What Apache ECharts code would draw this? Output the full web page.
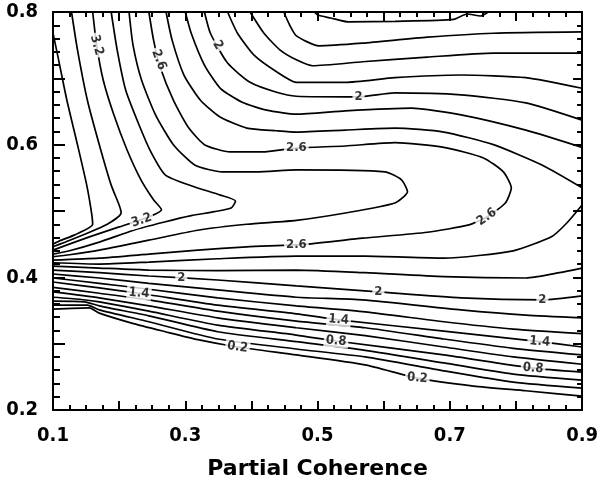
<!DOCTYPE html>
<html>
<head>
<meta charset="utf-8">
<script src="https://cdn.jsdelivr.net/npm/echarts@6/dist/echarts.min.js"></script>
<style>html,body{margin:0;padding:0;background:#fff}#c{width:601px;height:491px}</style>
</head>
<body>
<div id="c"></div>
<script>
// Axis tick labels
const xTickLabels = ['0.1','0.3','0.5','0.7','0.9'];
const yTickLabels = ['0.2','0.4','0.6','0.8'];

// Contour lines: [partial coherence, y]
const c36 = [[0.100,0.768],[0.107,0.735],[0.121,0.667],[0.137,0.600],[0.151,0.539],[0.158,0.499],[0.160,0.480],[0.133,0.464],[0.110,0.455],[0.100,0.450]];
const c34 = [[0.128,0.800],[0.137,0.743],[0.152,0.667],[0.170,0.600],[0.188,0.539],[0.200,0.509],[0.203,0.497],[0.182,0.480],[0.148,0.465],[0.118,0.453],[0.100,0.446]];
const c32 = [[0.160,0.800],[0.166,0.750],[0.176,0.697],[0.192,0.645],[0.212,0.592],[0.233,0.547],[0.252,0.517],[0.264,0.502],[0.242,0.490],[0.200,0.476],[0.155,0.461],[0.100,0.441]];
const c30 = [[0.188,0.800],[0.197,0.743],[0.210,0.682],[0.230,0.630],[0.248,0.589],[0.270,0.554],[0.309,0.538],[0.353,0.524],[0.376,0.515],[0.370,0.505],[0.344,0.499],[0.309,0.493],[0.267,0.483],[0.222,0.471],[0.170,0.453],[0.125,0.440],[0.100,0.435]];
const c28 = [[0.215,0.800],[0.221,0.750],[0.234,0.697],[0.255,0.645],[0.282,0.600],[0.315,0.569],[0.356,0.559],[0.408,0.559],[0.468,0.562],[0.602,0.559],[0.627,0.547],[0.636,0.529],[0.617,0.512],[0.542,0.497],[0.468,0.486],[0.393,0.480],[0.319,0.471],[0.245,0.456],[0.170,0.441],[0.125,0.434],[0.100,0.431]];
const c26 = [[0.245,0.800],[0.252,0.758],[0.262,0.717],[0.282,0.667],[0.304,0.627],[0.329,0.600],[0.368,0.589],[0.416,0.589],[0.468,0.595],[0.542,0.598],[0.617,0.603],[0.691,0.596],[0.751,0.580],[0.781,0.559],[0.793,0.535],[0.784,0.512],[0.756,0.491],[0.729,0.479],[0.666,0.468],[0.568,0.459],[0.483,0.450],[0.393,0.446],[0.319,0.441],[0.245,0.435],[0.170,0.429],[0.100,0.426]];
const c24top = [[0.271,0.800],[0.280,0.758],[0.298,0.705],[0.323,0.667],[0.352,0.642],[0.393,0.625],[0.438,0.621],[0.468,0.619],[0.542,0.622],[0.617,0.625],[0.691,0.619],[0.766,0.600],[0.840,0.569],[0.900,0.535]];
const c24bot = [[0.100,0.422],[0.170,0.420],[0.245,0.423],[0.349,0.428],[0.468,0.432],[0.572,0.432],[0.691,0.429],[0.796,0.440],[0.855,0.462],[0.878,0.483],[0.900,0.509]];
const c22top = [[0.300,0.800],[0.309,0.768],[0.329,0.720],[0.353,0.685],[0.386,0.664],[0.423,0.652],[0.468,0.646],[0.542,0.651],[0.642,0.655],[0.717,0.645],[0.815,0.622],[0.900,0.596]];
const c22bot = [[0.100,0.417],[0.170,0.414],[0.245,0.411],[0.349,0.410],[0.468,0.411],[0.572,0.407],[0.691,0.401],[0.815,0.399],[0.866,0.407],[0.900,0.414]];
const c20top = [[0.329,0.800],[0.338,0.768],[0.364,0.723],[0.398,0.694],[0.438,0.679],[0.468,0.673],[0.562,0.672],[0.617,0.678],[0.717,0.675],[0.815,0.663],[0.900,0.637]];
const c20bot = [[0.100,0.411],[0.170,0.407],[0.245,0.402],[0.349,0.396],[0.468,0.387],[0.592,0.378],[0.717,0.369],[0.840,0.366],[0.900,0.372]];
const c18top = [[0.364,0.800],[0.379,0.768],[0.404,0.735],[0.438,0.710],[0.468,0.694],[0.542,0.694],[0.617,0.701],[0.717,0.705],[0.815,0.701],[0.900,0.685]];
const c18bot = [[0.100,0.405],[0.170,0.399],[0.245,0.391],[0.349,0.381],[0.468,0.370],[0.568,0.366],[0.717,0.351],[0.815,0.343],[0.900,0.339]];
const c16top = [[0.398,0.800],[0.419,0.768],[0.443,0.743],[0.468,0.728],[0.493,0.719],[0.568,0.725],[0.666,0.732],[0.766,0.738],[0.900,0.738]];
const c16bot = [[0.100,0.399],[0.170,0.391],[0.245,0.382],[0.349,0.369],[0.468,0.357],[0.572,0.348],[0.691,0.333],[0.796,0.322],[0.900,0.315]];
const c14top = [[0.449,0.800],[0.458,0.780],[0.468,0.764],[0.502,0.749],[0.568,0.753],[0.666,0.762],[0.766,0.768],[0.900,0.770]];
const c14bot = [[0.100,0.393],[0.170,0.384],[0.230,0.376],[0.349,0.358],[0.468,0.345],[0.532,0.336],[0.691,0.319],[0.836,0.303],[0.900,0.295]];
const c12top = [[0.495,0.800],[0.501,0.795],[0.520,0.791],[0.547,0.785],[0.617,0.786],[0.706,0.789],[0.726,0.797],[0.747,0.794],[0.758,0.800]];
const c12bot = [[0.100,0.385],[0.170,0.376],[0.245,0.366],[0.349,0.349],[0.468,0.334],[0.572,0.324],[0.691,0.307],[0.796,0.293],[0.900,0.283]];
const c10 = [[0.100,0.378],[0.170,0.369],[0.245,0.357],[0.349,0.339],[0.468,0.324],[0.572,0.312],[0.691,0.295],[0.796,0.280],[0.900,0.269]];
const c08 = [[0.100,0.370],[0.140,0.367],[0.170,0.363],[0.245,0.349],[0.349,0.328],[0.468,0.313],[0.528,0.304],[0.691,0.283],[0.826,0.263],[0.900,0.257]];
const c06 = [[0.100,0.364],[0.148,0.363],[0.170,0.357],[0.245,0.342],[0.349,0.318],[0.468,0.303],[0.572,0.290],[0.691,0.271],[0.796,0.254],[0.900,0.245]];
const c04 = [[0.100,0.358],[0.152,0.358],[0.170,0.351],[0.245,0.333],[0.349,0.307],[0.468,0.292],[0.572,0.280],[0.691,0.259],[0.796,0.242],[0.900,0.233]];
const c02 = [[0.100,0.352],[0.155,0.354],[0.170,0.346],[0.219,0.331],[0.270,0.318],[0.319,0.306],[0.379,0.295],[0.468,0.283],[0.572,0.268],[0.651,0.248],[0.736,0.236],[0.815,0.229],[0.900,0.221]];

// Contour labels
const labelText  = ['3.2','2.6','2','2','2.6','3.2','2.6','2.6','2','2','2','1.4','1.4','1.4','0.8','0.8','0.2','0.2'];
const labelX     = [0.166,0.260,0.349,0.562,0.468,0.234,0.468,0.756,0.294,0.592,0.840,0.230,0.532,0.836,0.528,0.826,0.379,0.651];
const labelY     = [0.750,0.728,0.750,0.672,0.595,0.486,0.450,0.491,0.399,0.378,0.366,0.376,0.336,0.303,0.304,0.263,0.295,0.248];
const labelAngle = [-75,-70,-60,0,0,18,0,35,0,0,0,-5,-5,-5,-5,-5,-8,-5];

const lines = [c36,c34,c32,c30,c28,c26,c24top,c24bot,c22top,c22bot,c20top,c20bot,c18top,c18bot,c16top,c16bot,c14top,c14bot,c12top,c12bot,c10,c08,c06,c04,c02];

const X_MIN = 0.1, X_MAX = 0.9, X_MAJOR = 0.1;
const Y_MIN = 0.2, Y_MAX = 0.8, Y_MAJOR = 0.1;

const chart = echarts.init(document.getElementById('c'));
const tickFont = {fontFamily:'"Liberation Sans Narrow","DejaVu Sans Condensed",sans-serif', fontSize:20, fontWeight:'bold', color:'#000'};
function ax(pos, min, max, step, majorLen, minorLen, minorSplit, extra){
  return Object.assign({
    type:'value', position:pos, min:min, max:max, interval:step,
    axisLine:{show:true, lineStyle:{color:'#000', width:2}},
    axisTick:{show:true, inside:true, length:majorLen, lineStyle:{color:'#000', width:2}},
    minorTick:{show:true, splitNumber:minorSplit, length:minorLen, lineStyle:{color:'#000', width:2}},
    axisLabel:{show:false},
    splitLine:{show:false}
  }, extra || {});
}
const series = lines.map(pts => ({
  type:'line', data:pts, symbol:'none', silent:true, xAxisIndex:0, yAxisIndex:0,
  lineStyle:{color:'#000', width:1.7}, smooth:0.2, z:2
}));
series.push({
  type:'scatter', symbolSize:1, itemStyle:{color:'rgba(0,0,0,0)'}, z:5, silent:true, xAxisIndex:0, yAxisIndex:0,
  data: labelText.map((t,i)=>({
    value:[labelX[i], labelY[i]],
    label:{show:true, position:'inside', formatter:t, rotate:labelAngle[i],
      fontFamily:'"DejaVu Sans Condensed","DejaVu Sans",sans-serif', fontWeight:'bold', fontSize:13,
      color:'#000', backgroundColor:'#fff', padding:[0,2]}
  }))
});
chart.setOption({
  animation:false,
  grid:{left:53, right:11, top:12, bottom:81},
  xAxis:[
    ax('bottom', X_MIN, X_MAX, X_MAJOR, 9, 5, 4, {
      axisLabel:Object.assign({show:true, margin:16, formatter:v=>{const s=v.toFixed(1); return xTickLabels.includes(s)?s:'';}}, tickFont),
      name:'Partial Coherence', nameLocation:'middle', nameGap:48,
      nameTextStyle:{fontFamily:'"DejaVu Sans",sans-serif', fontWeight:'bold', fontSize:22, color:'#000'}
    }),
    ax('top', X_MIN, X_MAX, X_MAJOR, 9, 5, 4)
  ],
  yAxis:[
    ax('left', Y_MIN, Y_MAX, Y_MAJOR, 12, 7, 5, {
      axisLabel:Object.assign({show:true, margin:15, formatter:v=>{const s=v.toFixed(1); return yTickLabels.includes(s)?s:'';}}, tickFont)
    }),
    ax('right', Y_MIN, Y_MAX, Y_MAJOR, 9, 5, 5)
  ],
  series: series
});
</script>
</body>
</html>
